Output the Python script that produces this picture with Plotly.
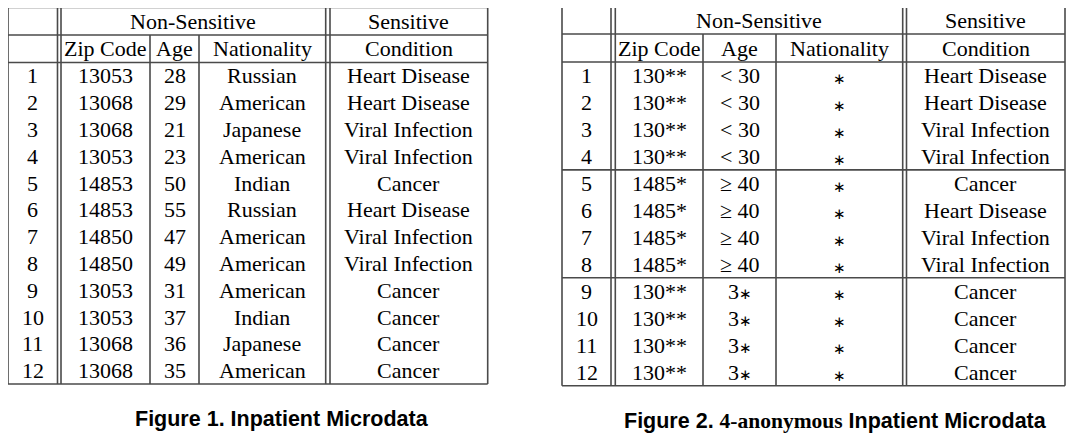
import plotly.graph_objects as go

# ---------------- data ----------------
row_ids = ["1", "2", "3", "4", "5", "6", "7", "8", "9", "10", "11", "12"]

zip_1 = ["13053", "13068", "13068", "13053", "14853", "14853",
         "14850", "14850", "13053", "13053", "13068", "13068"]
age_1 = ["28", "29", "21", "23", "50", "55", "47", "49", "31", "37", "36", "35"]
nat_1 = ["Russian", "American", "Japanese", "American", "Indian", "Russian",
         "American", "American", "American", "Indian", "Japanese", "American"]
cond_1 = ["Heart Disease", "Heart Disease", "Viral Infection", "Viral Infection",
          "Cancer", "Heart Disease", "Viral Infection", "Viral Infection",
          "Cancer", "Cancer", "Cancer", "Cancer"]

zip_2 = ["130**", "130**", "130**", "130**", "1485*", "1485*",
         "1485*", "1485*", "130**", "130**", "130**", "130**"]
age_2 = ["< 30", "< 30", "< 30", "< 30", "≥ 40", "≥ 40",
         "≥ 40", "≥ 40", "3∗", "3∗", "3∗", "3∗"]
nat_2 = ["∗", "∗", "∗", "∗", "∗", "∗", "∗", "∗", "∗", "∗", "∗", "∗"]
cond_2 = cond_1

group_header = ["Non-Sensitive", "Sensitive"]
col_headers = ["Zip Code", "Age", "Nationality", "Condition"]
groups_2 = [4, 8]  # row boundaries of the equivalence classes

caption_1 = "Figure 1. Inpatient Microdata"
caption_2 = ("Figure 2. <span style=\"font-family:'Liberation Serif', serif\">4-anonymous</span>"
             " Inpatient Microdata")

# ---------------- layout geometry ----------------
W, H = 1075, 435
OFF = 8  # default page margin around the plot div
SERIF = "Liberation Serif, Times New Roman, serif"
SANS = "Liberation Sans, Arial, sans-serif"
LINE = dict(color="#4a4a4a", width=1.6)
FS = 22

tables = [
    dict(left=8, dbl1=(57.5, 61), seps=[150, 199], dbl2=(325.7, 330), right=487.7,
         top=7.5, h1=35, h2=62.5, bottom=384, groups=[],
         cols=[row_ids, zip_1, age_1, nat_1, cond_1],
         caption=caption_1, cap_x=282, cap_y=419),
    dict(left=562, dbl1=(611, 615.3), seps=[703, 776], dbl2=(902.7, 906.5), right=1065,
         top=7, h1=34, h2=62, bottom=385.7, groups=groups_2,
         cols=[row_ids, zip_2, age_2, nat_2, cond_2],
         caption=caption_2, cap_x=835.5, cap_y=421),
]

fig = go.Figure()
shapes, annots = [], []


def hline(x0, x1, y):
    shapes.append(dict(type="line", xref="x", yref="y", x0=x0, x1=x1, y0=y, y1=y, line=LINE))


def vline(x, y0, y1):
    shapes.append(dict(type="line", xref="x", yref="y", x0=x, x1=x, y0=y0, y1=y1, line=LINE))


def text(x, y, s, size=FS, family=SERIF, bold=False):
    ys = -4 if s == "∗" else 0
    s = s.replace("∗", '<span style="font-size:15px">∗</span>')
    annots.append(dict(x=x, y=y, xref="x", yref="y", text=(f"<b>{s}</b>" if bold else s),
                       showarrow=False, xanchor="center", yanchor="middle", yshift=ys,
                       font=dict(family=family, size=size, color="black")))


for t in tables:
    L, R = t["left"], t["right"]
    top, h1, h2, bot = t["top"], t["h1"], t["h2"], t["bottom"]
    for y in (top, h1, h2, bot):
        hline(L, R, y)
    nrows = len(row_ids)
    rh = (bot - h2) / nrows
    for g in t["groups"]:
        hline(L, R, h2 + g * rh)
    vline(L, top, bot)
    vline(R, top, bot)
    for x in t["dbl1"] + t["dbl2"]:
        vline(x, top, bot)
    for x in t["seps"]:
        vline(x, h1, bot)
    edges = [L, t["dbl1"][0], t["dbl1"][1], t["seps"][0], t["seps"][1], t["dbl2"][0], t["dbl2"][1], R]
    centres = [(edges[0] + edges[1]) / 2,
               (edges[2] + edges[3]) / 2,
               (edges[3] + edges[4]) / 2,
               (edges[4] + edges[5]) / 2,
               (edges[6] + edges[7]) / 2]
    text((edges[2] + edges[5]) / 2, (top + h1) / 2, group_header[0])
    text(centres[4], (top + h1) / 2, group_header[1])
    for c, lab in zip(centres[1:], col_headers):
        text(c, (h1 + h2) / 2, lab)
    for c, col in zip(centres, t["cols"]):
        for i, v in enumerate(col):
            text(c, h2 + (i + 0.5) * rh, v)
    text(t["cap_x"], t["cap_y"], t["caption"], size=21.5, family=SANS, bold=True)

fig.update_layout(
    width=W, height=H, margin=dict(l=0, r=0, t=0, b=0),
    paper_bgcolor="white", plot_bgcolor="white", showlegend=False,
    xaxis=dict(range=[OFF, W + OFF], visible=False, fixedrange=True),
    yaxis=dict(range=[H + OFF, OFF], visible=False, fixedrange=True),
    shapes=shapes, annotations=annots,
)
fig.write_html("out.html")
